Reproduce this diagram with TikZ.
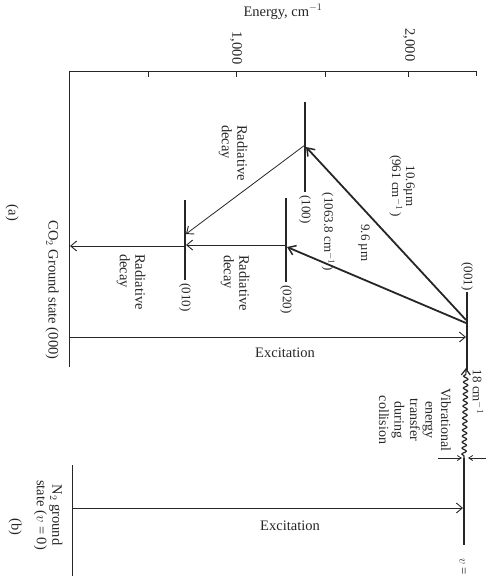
\documentclass[tikz,border=0pt]{standalone}
\usepackage{fontspec}
\setmainfont{Liberation Serif}
\usetikzlibrary{arrows.meta,decorations.pathmorphing}
\begin{document}
\begin{tikzpicture}[x=1pt,y=-1pt,
  ink/.style={black!85},
  thinline/.style={ink, line width=0.8pt},
  lvl/.style={ink, line width=1.4pt},
  laser/.style={ink, line width=1.8pt, -{Straight Barb[length=7pt,width=10pt,line width=1.5pt]}},
  decay/.style={ink, line width=0.8pt, -{Straight Barb[length=6pt,width=10pt,line width=0.9pt]}},
  lab/.style={ink, font=\fontsize{14.5}{15.5}\selectfont, inner sep=1pt},
  slab/.style={ink, font=\fontsize{13}{14}\selectfont, inner sep=1pt},
  rlab/.style={lab, rotate=-90},
  rslab/.style={slab, rotate=-90},
]
\useasboundingbox (0,0) rectangle (487,576);

% energy axis
\coordinate (ax0) at (69,71);
\coordinate (ax1) at (476,71);
\coordinate (ax2) at (476,76);
\draw[thinline] (ax0) -- (ax1) -- (ax2);
\foreach \t in {148,236,325,408} \draw[thinline] (\t,71) -- (\t,77);
\node[lab, anchor=base] (elab) at (283,16) {Energy, cm$^{-1}$};
\node[rlab] (t1) at (236,48) {1,000};
\node[rlab] (t2) at (409,45) {2,000};

% ground states
\coordinate (g1) at (69,367);
\draw[thinline] (ax0) -- (g1);
\coordinate (n0) at (72,465);
\coordinate (n1) at (72,576);
\draw[thinline] (n0) -- (n1);

% CO2 levels
\coordinate (l001a) at (467,292); \coordinate (l001b) at (467,370);
\coordinate (l100a) at (305,102); \coordinate (l100b) at (305,192);
\coordinate (l020a) at (286,198); \coordinate (l020b) at (286,282);
\coordinate (l010a) at (185,200); \coordinate (l010b) at (185,280);
\coordinate (lv1a) at (464,458);  \coordinate (lv1b) at (464,545);
\draw[lvl] (l001a) -- (l001b);
\draw[lvl] (l100a) -- (l100b);
\draw[lvl] (l020a) -- (l020b);
\draw[lvl] (l010a) -- (l010b);
\draw[lvl] (lv1a) -- (lv1b);
\node[rslab, anchor=east] (n001) at (l001a) {(001)};
\node[rslab, anchor=west] (n100) at ([yshift=-2pt]l100b) {(100)};
\node[rslab, anchor=west] (n020) at ([yshift=-2pt]l020b) {(020)};
\node[rslab, anchor=west] (n010) at ([yshift=-2pt]l010b) {(010)};
\node[rslab, anchor=west] (nv1) at ([yshift=-12pt]lv1b) {$v$ = 1};

% laser transitions
\coordinate (p1) at (466,320);
\coordinate (p2) at (466,323);
\coordinate (q1) at (306,147);
\coordinate (q2) at (287,247);
\draw[laser] (p1) -- (q1);
\draw[laser] (p2) -- (q2);
\node[rslab, align=center] (w1) at (402,186) {10.6µm\\(961 cm$^{-1}$\,)};
\node[rslab] (w2) at (364,243) {9.6 µm};
\node[rslab] (w3) at (328,232) {(1063.8 cm$^{-1}$\,)};

% radiative decays
\coordinate (r1) at (305,145);
\coordinate (r2) at (186,234);
\coordinate (r3) at (286,245);
\coordinate (r4) at (186,245);
\coordinate (r5) at (185,246);
\coordinate (r6) at (70,246);
\draw[decay] (r1) -- (r2);
\draw[decay] (r3) -- (r4);
\draw[decay] (r5) -- (r6);
\node[rlab, align=left] (d1) at (233,153) {Radiative\\decay};
\node[rlab, align=left] (d2) at (235,283) {Radiative\\decay};
\node[rlab, align=left] (d3) at (131,282) {Radiative\\decay};

% excitations
\coordinate (e1) at (69,337);
\coordinate (e2) at (466,337);
\coordinate (e3) at (72,508);
\coordinate (e4) at (463,508);
\draw[decay] (e1) -- (e2);
\draw[decay] (e3) -- (e4);
\node[lab] (x1) at (285,353) {Excitation};
\node[lab] (x2) at (290,526) {Excitation};

% collision transfer
\coordinate (c1) at (464,458);
\coordinate (c2) at (466,368);
\draw[ink, line width=1.2pt, -{Straight Barb[length=6pt,width=9pt,line width=1.2pt]},
  decorate, decoration={snake, amplitude=2.2pt, segment length=6pt, pre length=2pt, post length=6pt}] (c1) -- (c2);
\coordinate (m1) at (438,458); \coordinate (m2) at (462,458);
\coordinate (m3) at (486,458); \coordinate (m4) at (468,458);
\draw[thinline, -{Straight Barb[length=4pt,width=5pt]}] (m1) -- (m2);
\draw[thinline, -{Straight Barb[length=4pt,width=5pt]}] (m3) -- (m4);
\node[rslab] (gap) at (478,392) {18 cm$^{-1}$};
\node[rlab, align=center, font=\fontsize{14}{15.5}\selectfont] (vt) at (415,420) {Vibrational\\energy\\transfer\\during\\collision};

% captions
\node[rlab] (co2) at (52,290) {CO$_2$ Ground state (000)};
\node[rlab, align=center] (n2) at (48,515) {N$_2$ ground\\state ($v$ = 0)};
\node[rlab] (ca) at (12,213) {(a)};
\node[rlab] (cb) at (15,527) {(b)};
\end{tikzpicture}
\end{document}
